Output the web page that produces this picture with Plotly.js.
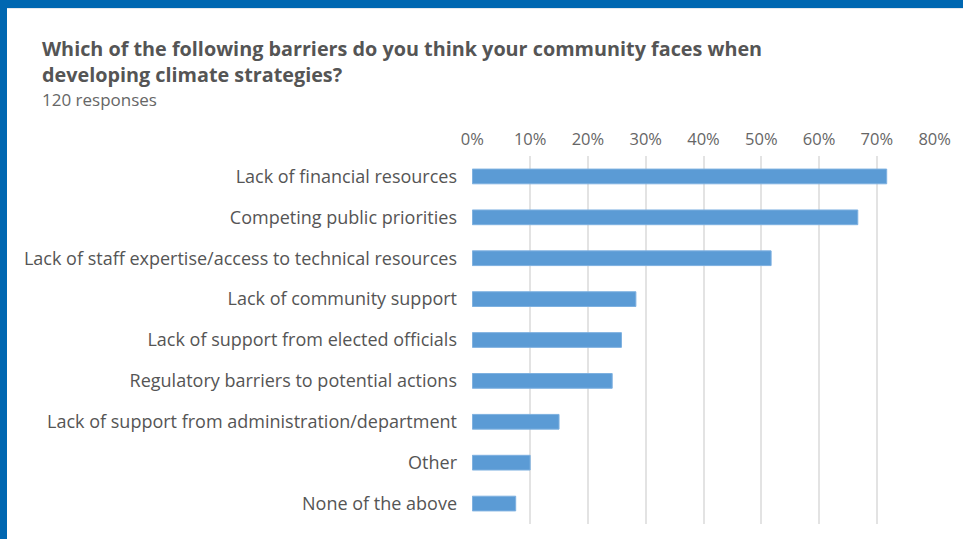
<!DOCTYPE html>
<html>
<head>
<meta charset="utf-8">
<script src="https://cdn.plot.ly/plotly-3.0.1.min.js"></script>
<style>
  html, body { margin: 0; padding: 0; width: 963px; height: 539px; overflow: hidden; background: #0067b1; }
  #wrap { position: absolute; left: 7px; top: 8px; width: 956px; height: 531px; background: #ffffff; border-top: 1px solid #e4e8ee; box-sizing: border-box; }
  #chart { position: absolute; left: 0; top: -1px; width: 956px; height: 531px; }
</style>
</head>
<body>
<div id="wrap"><div id="chart"></div></div>
<script>
const categories = [
  "Lack of financial resources",
  "Competing public priorities",
  "Lack of staff expertise/access to technical resources",
  "Lack of community support",
  "Lack of support from elected officials",
  "Regulatory barriers to potential actions",
  "Lack of support from administration/department",
  "Other",
  "None of the above"
];
const percentValues = [71.7, 66.7, 51.7, 28.3, 25.8, 24.2, 15.0, 10.0, 7.5];
const tickValues = [0, 10, 20, 30, 40, 50, 60, 70, 80];
const tickLabels = ["0%", "10%", "20%", "30%", "40%", "50%", "60%", "70%", "80%"];
const titleLine1 = "Which of the following barriers do you think your community faces when";
const titleLine2 = "developing climate strategies?";
const subtitle = "120 responses";

const FONT = "'Open Sans', Lato, sans-serif";
const W = 956, H = 531;
const M = { l: 465, r: 28, t: 148, b: 15 };
const pw = W - M.l - M.r, ph = H - M.t - M.b;
function px(xpix) { return (xpix - 7 - M.l) / pw; }
function py(ypix) { return (H - M.b - (ypix - 8)) / ph; }

const trace = {
  type: "bar",
  orientation: "h",
  y: categories,
  x: percentValues,
  marker: { color: "#5b9bd5", line: { color: "#7db0e0", width: 1 } },
  width: 0.36,
  hoverinfo: "none"
};

const layout = {
  width: W, height: H,
  margin: M,
  paper_bgcolor: "rgba(0,0,0,0)",
  plot_bgcolor: "rgba(0,0,0,0)",
  showlegend: false,
  font: { family: FONT, color: "#5a5a5a" },
  xaxis: {
    side: "top",
    range: [-0.06, 80.06],
    tickvals: tickValues,
    ticktext: tickLabels,
    showgrid: true,
    gridcolor: "#e3e3e3",
    gridwidth: 2,
    zeroline: false,
    showline: false,
    ticks: "",
    ticklabelstandoff: 7,
    tickfont: { family: FONT, size: 16.5, color: "#666666" },
    fixedrange: true
  },
  yaxis: {
    autorange: "reversed",
    type: "category",
    showgrid: false,
    zeroline: false,
    showline: false,
    ticks: "",
    ticklabelstandoff: 14,
    tickfont: { family: FONT, size: 18, color: "#555555" },
    fixedrange: true
  },
  annotations: [
    { text: "<b>" + titleLine1 + "</b>", xref: "paper", yref: "paper", x: px(41), y: py(48), xanchor: "left", yanchor: "middle", showarrow: false, borderpad: 0, font: { family: FONT, size: 19.8, color: "#555555" } },
    { text: "<b>" + titleLine2 + "</b>", xref: "paper", yref: "paper", x: px(41), y: py(74), xanchor: "left", yanchor: "middle", showarrow: false, borderpad: 0, font: { family: FONT, size: 19.8, color: "#555555" } },
    { text: subtitle, xref: "paper", yref: "paper", x: px(41), y: py(99.5), xanchor: "left", yanchor: "middle", showarrow: false, borderpad: 0, font: { family: FONT, size: 17, color: "#666666" } }
  ]
};

Plotly.newPlot("chart", [trace], layout, { displayModeBar: false, staticPlot: true });
</script>
</body>
</html>
